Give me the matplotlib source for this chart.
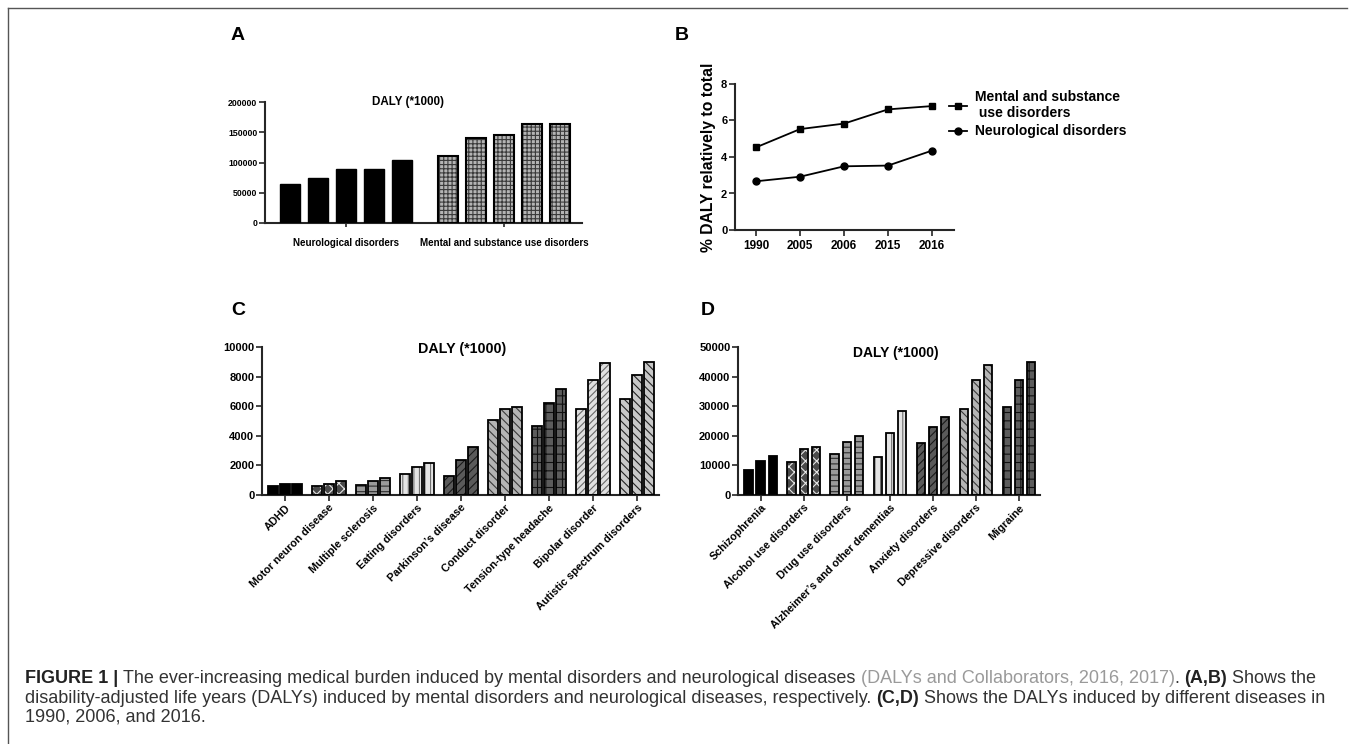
import matplotlib
matplotlib.use("Agg")
import matplotlib.pyplot as plt
from matplotlib.lines import Line2D
import numpy as np

# ---------------- data ----------------
a_groups = ["Neurological disorders", "Mental and substance use disorders"]
a_neuro = [65000, 75000, 88500, 88500, 104500]
a_mental = [111000, 141000, 145500, 163000, 163000]

b_years = ["1990", "2005", "2006", "2015", "2016"]
b_mental = [4.53, 5.53, 5.83, 6.61, 6.79]
b_neuro = [2.67, 2.92, 3.49, 3.53, 4.35]
b_labels = ["Mental and substance\n use disorders", "Neurological disorders"]

c_cats = ["ADHD", "Motor neuron disease", "Multiple sclerosis", "Eating disorders",
          "Parkinson\u2019s disease", "Conduct disorder", "Tension-type headache",
          "Bipolar disorder", "Autistic spectrum disorders"]
c_1990 = [600, 580, 700, 1390, 1300, 5070, 4680, 5840, 6500]
c_2006 = [720, 760, 970, 1860, 2380, 5800, 6220, 7770, 8100]
c_2016 = [760, 930, 1150, 2180, 3250, 5930, 7190, 8940, 9000]

d_cats = ["Schizophrenia", "Alcohol use disorders", "Drug use disorders",
          "Alzheimer\u2019s and other dementias", "Anxiety disorders",
          "Depressive disorders", "Migraine"]
d_1990 = [8400, 11200, 14000, 12900, 17600, 29200, 29600]
d_2006 = [11400, 15400, 17800, 20800, 23000, 38800, 39000]
d_2016 = [13300, 16100, 20100, 28400, 26200, 44000, 44800]

# ---------------- styles ----------------
W, H = 1355, 744
plt.rcParams["font.family"] = ["Liberation Sans", "DejaVu Sans"]
plt.rcParams["font.weight"] = "bold"
plt.rcParams["axes.labelweight"] = "bold"
plt.rcParams["hatch.linewidth"] = 0.8

fig = plt.figure(figsize=(W / 100, H / 100), dpi=100)

def ax_px(l, t, r, b):
    return fig.add_axes([l / W, 1 - b / H, (r - l) / W, (b - t) / H])

def style_ax(ax, fs):
    for s in ("top", "right"):
        ax.spines[s].set_visible(False)
    for s in ("left", "bottom"):
        ax.spines[s].set_linewidth(1.5)
        ax.spines[s].set_color("#262626")
    ax.tick_params(direction="out", length=4, width=1.2, color="#262626",
                   labelsize=fs, pad=1.5)

# texture styles: (facecolor, hatch, hatchcolor)
styles = [
    ("#000000", "", "#000000"),
    ("#4a4a4a", "xxx", "#e6e6e6"),
    ("#9a9a9a", "---", "#2e2e2e"),
    ("#e4e4e4", "|||", "#707070"),
    ("#5a5a5a", "////", "#1a1a1a"),
    ("#b4b4b4", "\\\\\\\\", "#3a3a3a"),
    ("#5c5c5c", "++", "#101010"),
    ("#e0e0e0", "/////", "#6a6a6a"),
    ("#c8c8c8", "\\\\\\\\", "#222222"),
]

def tex_bar(ax, x, h, w, st, lw=1.3):
    fc, hatch, hc = st
    ax.bar(x, h, w, color=fc, edgecolor=hc, hatch=hatch, linewidth=0, zorder=2)
    ax.bar(x, h, w, facecolor="none", edgecolor="black", linewidth=lw, zorder=3)

# ---------------- panel A ----------------
axA = ax_px(265, 102, 582, 223)
style_ax(axA, 6.3)
xa_n = np.arange(len(a_neuro))
xa_m = np.arange(len(a_mental)) + 5.65
axA.bar(xa_n, a_neuro, 0.72, color="black", edgecolor="black", linewidth=1.0, zorder=3)
tex_bar(axA, xa_m, a_mental, 0.72, ("#b4b4b4", "++++", "#3a3a3a"), lw=1.5)
axA.set_xlim(-0.91, 10.45)
axA.set_ylim(0, 200000)
axA.set_yticks([0, 50000, 100000, 150000, 200000])
axA.set_yticklabels(["0", "50000", "100000", "150000", "200000"])
axA.set_xticks([np.mean(xa_n), np.mean(xa_m)])
axA.set_xticklabels(a_groups, fontsize=7)
axA.tick_params(axis="x", length=3, pad=8)
axA.text(0.45, 1.0, "DALY (*1000)", transform=axA.transAxes, ha="center",
         va="center", fontsize=8.4)

# ---------------- panel B ----------------
axB = ax_px(735, 84, 954, 230)
style_ax(axB, 8)
xb = np.arange(len(b_years))
l1, = axB.plot(xb, b_mental, color="black", lw=1.3, marker="s", ms=5, clip_on=False)
l2, = axB.plot(xb, b_neuro, color="black", lw=1.3, marker="o", ms=5, clip_on=False)
axB.set_xlim(-0.48, 4.5)
axB.set_ylim(0, 8)
axB.set_yticks([0, 2, 4, 6, 8])
axB.set_xticks(xb)
axB.set_xticklabels(b_years, fontsize=8.5)
axB.tick_params(axis="x", pad=3)
axB.set_ylabel("% DALY relatively to total", fontsize=11.3, fontweight="bold", labelpad=4)
fig.legend([l1, l2], b_labels, loc="upper left",
           bbox_to_anchor=(949 / W, 1 - 90 / H), frameon=False,
           prop={"size": 10, "weight": "bold"}, handlelength=1.3,
           handletextpad=0.6, labelspacing=0.3, borderpad=0, borderaxespad=0)

# ---------------- panel C ----------------
axC = ax_px(262, 347, 659, 495)
style_ax(axC, 8)
xc = np.arange(len(c_cats))
for i in range(len(c_cats)):
    for off, vals in zip((-0.27, 0.0, 0.27), (c_1990, c_2006, c_2016)):
        tex_bar(axC, xc[i] + off, vals[i], 0.23, styles[i])
axC.set_xlim(-0.52, 8.5)
axC.set_ylim(0, 10000)
axC.set_yticks(np.arange(0, 10001, 2000))
axC.set_xticks(xc)
axC.set_xticklabels(c_cats, rotation=45, ha="right", rotation_mode="anchor", fontsize=7.8)
axC.text(0.505, 0.985, "DALY (*1000)", transform=axC.transAxes, ha="center",
         va="center", fontsize=10.3)

# ---------------- panel D ----------------
axD = ax_px(738, 347, 1040, 495)
style_ax(axD, 8)
xd = np.arange(len(d_cats))
d_styles = styles[:7]
for i in range(len(d_cats)):
    for off, vals in zip((-0.28, 0.0, 0.28), (d_1990, d_2006, d_2016)):
        tex_bar(axD, xd[i] + off, vals[i], 0.2, d_styles[i])
axD.set_xlim(-0.53, 6.49)
axD.set_ylim(0, 50000)
axD.set_yticks(np.arange(0, 50001, 10000))
axD.set_xticks(xd)
axD.set_xticklabels(d_cats, rotation=45, ha="right", rotation_mode="anchor", fontsize=7.8)
axD.text(0.523, 0.96, "DALY (*1000)", transform=axD.transAxes, ha="center",
         va="center", fontsize=10)

# ---------------- panel letters ----------------
for lab, x, y in (("A", 238, 35), ("B", 682, 35), ("C", 238, 310), ("D", 708, 310)):
    fig.text(x / W, 1 - y / H, lab, ha="center", va="center", fontsize=14)

# ---------------- frame ----------------
fig.add_artist(Line2D([8 / W, 8 / W], [0, 1 - 8 / H], transform=fig.transFigure,
                      color="#555555", lw=1.0))
fig.add_artist(Line2D([8 / W, 1347 / W], [1 - 8 / H, 1 - 8 / H], transform=fig.transFigure,
                      color="#555555", lw=1.0))

# ---------------- caption ----------------
fig.canvas.draw()
renderer = fig.canvas.get_renderer()
DARK, GRAY, BOLDC = "#333333", "#9a9a9a", "#222222"

cap1 = [
    ("FIGURE 1 | ", "bold", BOLDC),
    ("The ever-increasing medical burden induced by mental disorders and neurological diseases ", "normal", DARK),
    ("(DALYs and Collaborators, 2016, 2017)", "normal", GRAY),
    (". ", "normal", DARK),
    ("(A,B) ", "bold", BOLDC),
    ("Shows the", "normal", DARK),
]
cap2 = [
    ("disability-adjusted life years (DALYs) induced by mental disorders and neurological diseases, respectively. ", "normal", DARK),
    ("(C,D) ", "bold", BOLDC),
    ("Shows the DALYs induced by different diseases in", "normal", DARK),
]
cap3 = [("1990, 2006, and 2016.", "normal", DARK)]

def measure(s, weight, fs):
    t = fig.text(0, 0, s, fontsize=fs, fontweight=weight)
    w = t.get_window_extent(renderer).width
    t.remove()
    return w

def runs_width(runs, fs):
    sw = measure("a a", "normal", fs) - measure("aa", "normal", fs)
    tot = 0
    for s, weight, _ in runs:
        core = s.rstrip(" ")
        tot += measure(core, weight, fs) + (len(s) - len(core)) * sw
    return tot

base_fs = 10.0
CAP_FS = base_fs * (1317 - 25) / runs_width(cap1, base_fs)
space_w = measure("a a", "normal", CAP_FS) - measure("aa", "normal", CAP_FS)

def draw_runs(x, y, runs):
    for s, weight, color in runs:
        core = s.rstrip(" ")
        ntrail = len(s) - len(core)
        t = fig.text(x / W, 1 - y / H, core, fontsize=CAP_FS, fontweight=weight,
                     color=color, va="baseline", ha="left")
        x += t.get_window_extent(renderer).width + ntrail * space_w

draw_runs(25, 683, cap1)
draw_runs(25, 703, cap2)
draw_runs(25, 722, cap3)

fig.savefig("out.png", dpi=100)
